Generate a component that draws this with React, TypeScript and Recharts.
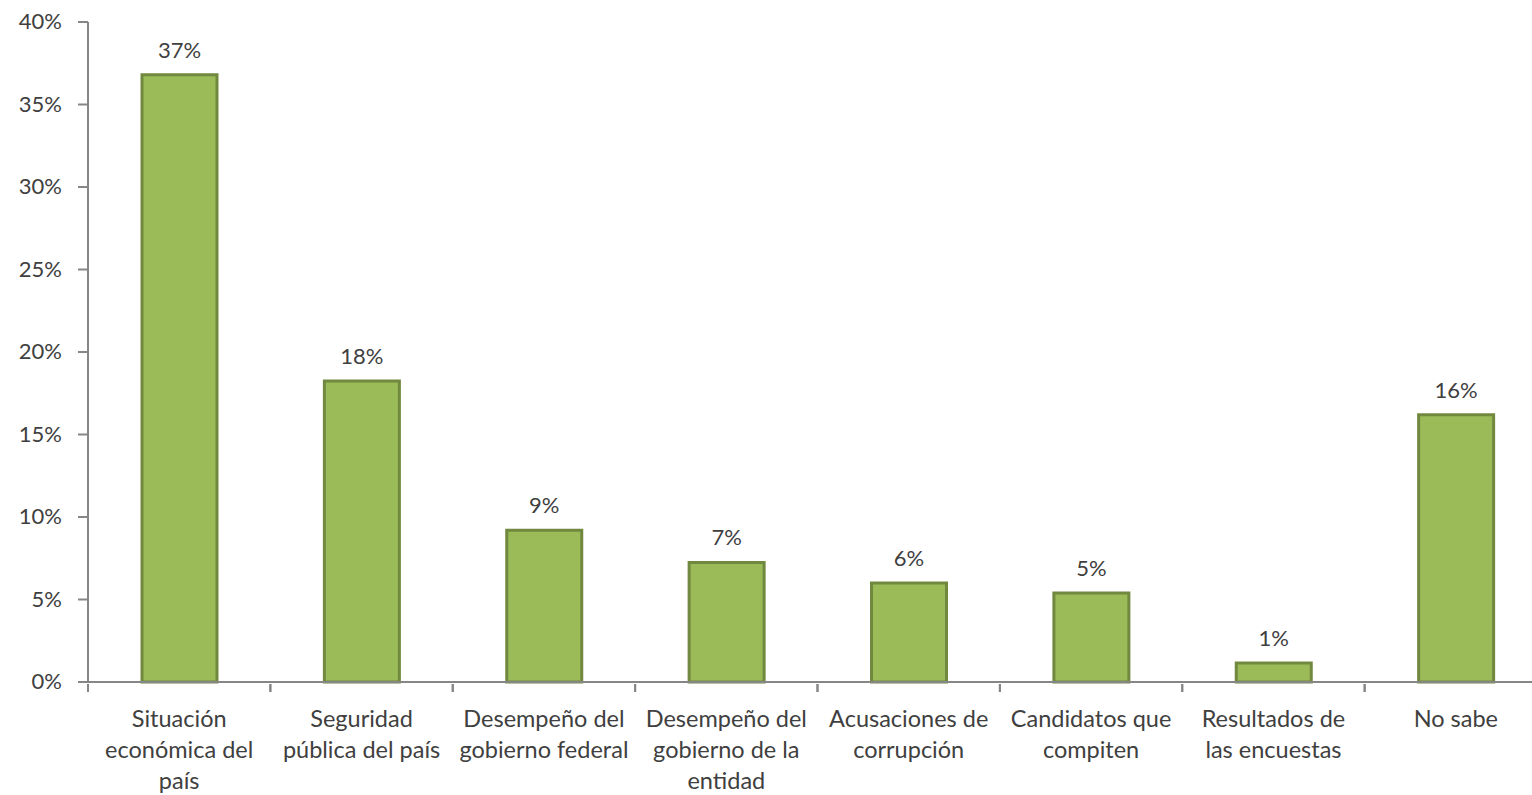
import React from "react";
import { BarChart, Bar, XAxis, YAxis, LabelList } from "recharts";

const categories = [
  "Situación\neconómica del\npaís",
  "Seguridad\npública del país",
  "Desempeño del\ngobierno federal",
  "Desempeño del\ngobierno de la\nentidad",
  "Acusaciones de\ncorrupción",
  "Candidatos que\ncompiten",
  "Resultados de\nlas encuestas",
  "No sabe",
];
const values = [36.8, 18.25, 9.2, 7.25, 6.0, 5.4, 1.15, 16.2];
const yTicks = [0, 5, 10, 15, 20, 25, 30, 35, 40];

const data = categories.map((c, i) => ({ name: c, value: values[i] }));

const FONT = "Lato, 'Open Sans', sans-serif";
const TEXT = "#404040";
const AXIS = "#868686";
const BAND = (1547 - 88) / categories.length;

const CatTick = (props: any) => {
  const { x, y, payload } = props;
  const lines = String(payload.value).split("\n");
  return (
    <g>
      <line x1={x - BAND / 2} x2={x - BAND / 2} y1={y - 8} y2={y} stroke={AXIS} strokeWidth={2} />
      <line x1={x + BAND / 2} x2={x + BAND / 2} y1={y - 8} y2={y} stroke={AXIS} strokeWidth={2} />
      {lines.map((l, i) => (
        <text key={i} x={x} y={y + 35 + i * 31} textAnchor="middle" fontFamily={FONT} fontSize={23.5} fill={TEXT}>
          {l}
        </text>
      ))}
    </g>
  );
};

const YTick = (props: any) => {
  const { x, y, payload } = props;
  return (
    <text x={x - 14} y={y + 7} textAnchor="end" fontFamily={FONT} fontSize={22} fill={TEXT}>
      {payload.value + "%"}
    </text>
  );
};

const ValueLabel = (props: any) => {
  const { x, y, width, value } = props;
  return (
    <text x={x + width / 2} y={y - 17} textAnchor="middle" fontFamily={FONT} fontSize={22} fill={TEXT}>
      {Math.round(value) + "%"}
    </text>
  );
};

export default function App() {
  return (
    <div style={{ position: "absolute", left: 0, top: 0, width: 1532, height: 795, overflow: "hidden", background: "#fff" }}>
      <BarChart
        width={1560}
        height={795}
        data={data}
        margin={{ top: 22, right: 13, bottom: 0, left: 0 }}
      >
        <YAxis
          domain={[0, 40]}
          ticks={yTicks}
          interval={0}
          width={88}
          axisLine={{ stroke: AXIS, strokeWidth: 2 }}
          tickLine={{ stroke: AXIS, strokeWidth: 2 }}
          tickSize={10}
          tick={<YTick />}
        />
        <XAxis
          dataKey="name"
          height={113}
          interval={0}
          axisLine={{ stroke: AXIS, strokeWidth: 2 }}
          tickLine={false}
          tickSize={8}
          tick={<CatTick />}
        />
        <Bar dataKey="value" fill="#9BBB59" stroke="#71893F" strokeWidth={3} barSize={75} isAnimationActive={false}>
          <LabelList dataKey="value" content={<ValueLabel />} />
        </Bar>
      </BarChart>
    </div>
  );
}
